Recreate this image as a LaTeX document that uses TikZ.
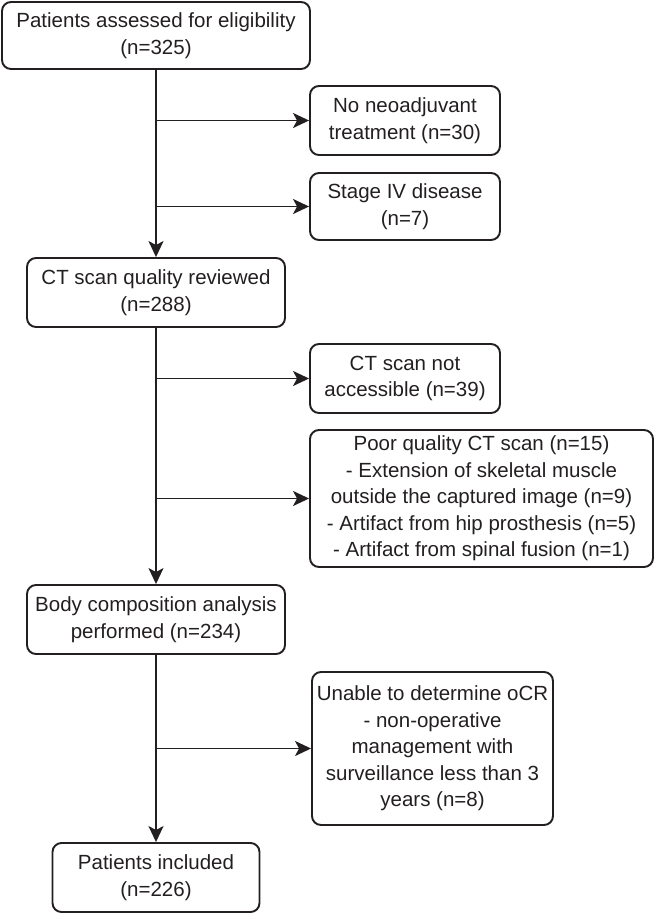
\documentclass[tikz,border=0pt]{standalone}
\usepackage{fontspec}
\setmainfont{Liberation Sans}
\usetikzlibrary{arrows.meta}
\definecolor{ink}{HTML}{231F20}
\begin{document}
\begin{tikzpicture}[x=1pt,y=-1pt,
  box/.style={draw=ink, line width=1.9pt, rounded corners=9pt, align=center,
    inner sep=0pt, text=ink,
    font=\fontsize{20.5}{26.5}\selectfont},
  arr/.style={draw=ink, line width=1.9pt, -{Stealth[length=16pt,width=15pt,inset=4pt]}}]
\useasboundingbox (0,0) rectangle (655,913);
\node[box, minimum width=308pt, minimum height=67pt] (b1) at (156,35.5) {Patients assessed for eligibility\\(n=325)};
\node[box, minimum width=190pt, minimum height=69pt] (n1) at (405,120.5) {No neoadjuvant\\treatment (n=30)};
\node[box, minimum width=190pt, minimum height=67pt] (n2) at (405,206.5) {Stage IV disease\\(n=7)};
\node[box, minimum width=258pt, minimum height=69pt] (b2) at (156,292.5) {CT scan quality reviewed\\(n=288)};
\node[box, minimum width=190pt, minimum height=69pt] (n3) at (405,378.5) {CT scan not\\accessible (n=39)};
\node[box, minimum width=343pt, minimum height=137pt] (n4) at (481.5,498.5) {Poor quality CT scan (n=15)\\- Extension of skeletal muscle\\outside the captured image (n=9)\\- Artifact from hip prosthesis (n=5)\\- Artifact from spinal fusion (n=1)};
\node[box, minimum width=258pt, minimum height=69pt] (b3) at (156,619.5) {Body composition analysis\\performed (n=234)};
\node[box, minimum width=241pt, minimum height=153pt] (n5) at (432.5,748.5) {Unable to determine oCR\\- non-operative\\management with\\surveillance less than 3\\years (n=8)};
\node[box, minimum width=207pt, minimum height=69pt] (b4) at (156,877.5) {Patients included\\(n=226)};
\draw[arr] (b1.south) -- (b2.north);
\draw[arr] (b1.south |- n1.west) -- (n1.west);
\draw[arr] (b1.south |- n2.west) -- (n2.west);
\draw[arr] (b2.south) -- (b3.north);
\draw[arr] (b2.south |- n3.west) -- (n3.west);
\draw[arr] (b2.south |- n4.west) -- (n4.west);
\draw[arr] (b3.south) -- (b4.north);
\draw[arr] (b3.south |- n5.west) -- (n5.west);
\end{tikzpicture}
\end{document}
